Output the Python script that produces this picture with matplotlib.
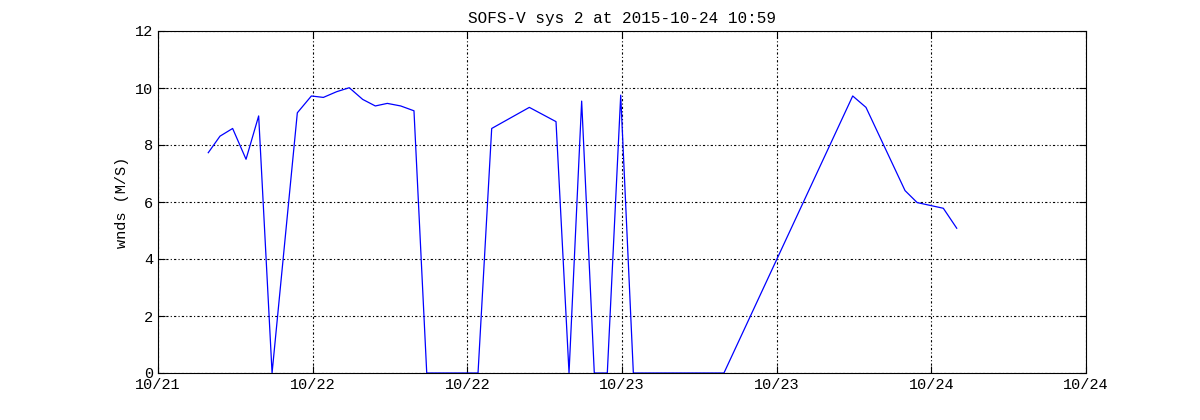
import datetime as dt
import matplotlib
matplotlib.use("Agg")
import matplotlib.pyplot as plt
import matplotlib.dates as mdates

# ---------------- data (hours after 2015-10-21 12:00, wind speed m/s) ----------------
t0 = dt.datetime(2015, 10, 21, 12, 0)
hours = [3.9, 4.81, 5.79, 6.83, 7.81, 8.85, 10.81, 11.9, 12.83, 13.86, 14.84,
         15.88, 16.86, 17.79, 18.83, 19.86, 20.85, 24.83, 25.89, 28.81, 30.88,
         31.89, 32.87, 33.85, 34.86, 35.9, 36.88, 43.91, 53.9, 54.93, 57.96,
         58.9, 60.93, 61.97]
wnds = [7.73, 8.31, 8.58, 7.50, 9.02, 0.0, 9.13, 9.72, 9.67, 9.87, 10.01,
        9.60, 9.37, 9.46, 9.37, 9.20, 0.0, 0.0, 8.58, 9.32, 8.82,
        0.0, 9.54, 0.0, 0.0, 9.75, 0.0, 0.0, 9.72, 9.32, 6.40,
        5.98, 5.78, 5.08]
times = [t0 + dt.timedelta(hours=h) for h in hours]

plt.rcParams['font.family'] = ['Liberation Mono', 'DejaVu Sans Mono']

fig = plt.figure(figsize=(12, 4.2), dpi=100)
ax = fig.add_axes([158 / 1200, 47 / 420, 928 / 1200, 342 / 420])

ax.plot(times, wnds, color='#0000ff', linewidth=0.9)

ax.set_xlim(t0, t0 + dt.timedelta(hours=72))
ax.set_ylim(0, 12)
ax.set_yticks(range(0, 13, 2))
ax.xaxis.set_major_locator(mdates.HourLocator(byhour=[0, 12]))
ax.xaxis.set_major_formatter(mdates.DateFormatter('%m/%d'))

ax.grid(True, color='black', linestyle=(0, (2, 2, 1, 2)), linewidth=0.8)
ax.tick_params(direction='in', top=True, right=True, length=5, labelsize=11)
for s in ax.spines.values():
    s.set_linewidth(0.8)

ax.set_ylabel('wnds (M/S)', fontsize=11)
ax.set_title('SOFS-V sys 2 at 2015-10-24 10:59', fontsize=11.5)

fig.savefig('out.png', dpi=100)
